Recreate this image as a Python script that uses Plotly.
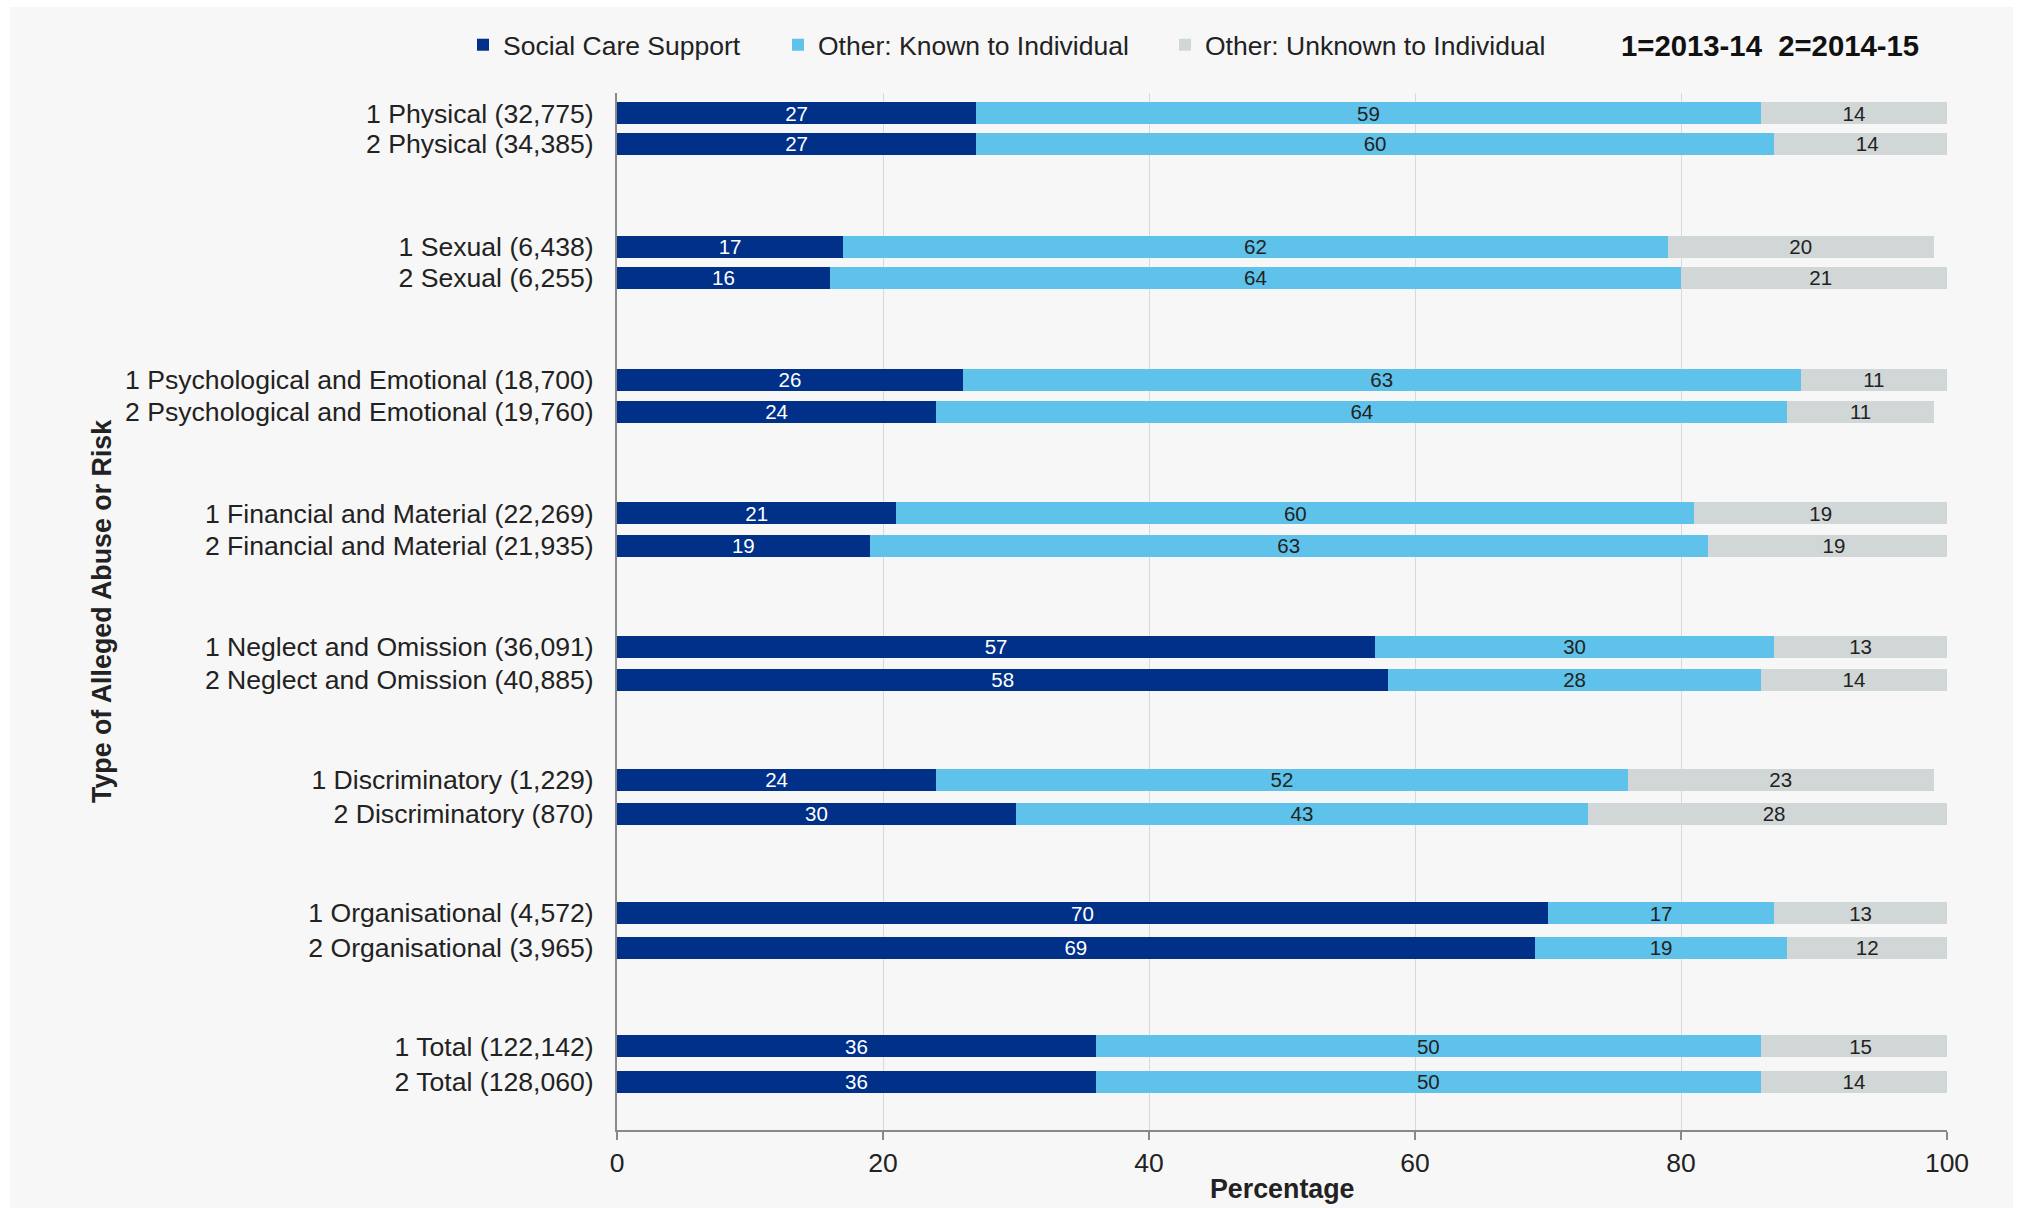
import plotly.graph_objects as go

# ---------------- data ----------------
categories = ["Physical", "Sexual", "Psychological and Emotional", "Financial and Material",
              "Neglect and Omission", "Discriminatory", "Organisational", "Total"]
counts_1314 = [32775, 6438, 18700, 22269, 36091, 1229, 4572, 122142]
counts_1415 = [34385, 6255, 19760, 21935, 40885, 870, 3965, 128060]

social_care_1314 = [27, 17, 26, 21, 57, 24, 70, 36]
social_care_1415 = [27, 16, 24, 19, 58, 30, 69, 36]
known_1314 = [59, 62, 63, 60, 30, 52, 17, 50]
known_1415 = [60, 64, 64, 63, 28, 43, 19, 50]
unknown_1314 = [14, 20, 11, 19, 13, 23, 13, 15]
unknown_1415 = [14, 21, 11, 19, 14, 28, 12, 14]

series_names = ["Social Care Support", "Other: Known to Individual", "Other: Unknown to Individual"]
x_ticks = [0, 20, 40, 60, 80, 100]

# ---------------- layout helpers ----------------
W, H = 2019, 1208
ML, MR, MT, MB = 617, 72, 93, 78
PW, PH = W - ML - MR, H - MT - MB

FONT = "Liberation Sans, Arial, Helvetica, sans-serif"
COL_SCS = "#003087"
COL_KNOWN = "#5EC2EA"
COL_UNKNOWN = "#D1D6D7"
TXT = "#222222"

# vertical slot positions (pixel-like units from top of plot area)
y_pos, y_lab = [], []
for g, cat in enumerate(categories):
    y_pos.append(20.3 + 133.3 * g)
    y_lab.append(f"1 {cat} ({counts_1314[g]:,})")
    y_pos.append(50.8 + 134.0 * g)
    y_lab.append(f"2 {cat} ({counts_1415[g]:,})")


def interleave(a, b):
    out = []
    for u, v in zip(a, b):
        out += [u, v]
    return out


series_vals = [interleave(social_care_1314, social_care_1415),
               interleave(known_1314, known_1415),
               interleave(unknown_1314, unknown_1415)]
colors = [COL_SCS, COL_KNOWN, COL_UNKNOWN]
text_colors = ["white", TXT, TXT]
legends = ["legend", "legend2", "legend3"]

fig = go.Figure()
for name, vals, c, tc, lg in zip(series_names, series_vals, colors, text_colors, legends):
    fig.add_trace(go.Bar(
        name=name, x=vals, y=y_pos, orientation="h",
        marker=dict(color=c, line=dict(width=0)), width=22,
        text=[str(v) for v in vals], textposition="inside", insidetextanchor="middle",
        textangle=0, constraintext="none",
        insidetextfont=dict(family=FONT, size=20.5, color=tc),
        legend=lg, showlegend=True,
    ))

legend_common = dict(orientation="h", xref="container", yref="container", y=1 - 45 / H,
                     yanchor="middle", xanchor="left", bgcolor="rgba(0,0,0,0)",
                     font=dict(family=FONT, size=26.5, color=TXT))

fig.update_layout(
    width=W, height=H, barmode="stack", showlegend=True,
    margin=dict(l=ML, r=MR, t=MT, b=MB, autoexpand=False),
    paper_bgcolor="white", plot_bgcolor="rgba(0,0,0,0)",
    font=dict(family=FONT, size=26, color=TXT),
    legend=dict(x=463 / W, **legend_common),
    legend2=dict(x=778 / W, **legend_common),
    legend3=dict(x=1165 / W, **legend_common),
    xaxis=dict(range=[0, 100], tickvals=x_ticks, showgrid=True, gridcolor="#D9D9D9", gridwidth=1,
               zeroline=False, showline=True, linecolor="#898989", linewidth=2,
               ticks="outside", ticklen=8, tickwidth=2, tickcolor="#898989",
               tickfont=dict(family=FONT, size=26.5, color=TXT)),
    yaxis=dict(range=[PH, 0], tickvals=y_pos, ticktext=y_lab, showgrid=False, zeroline=False,
               showline=True, linecolor="#898989", linewidth=2, ticks="",
               ticklabelstandoff=16, tickfont=dict(family=FONT, size=26.6, color=TXT)),
    shapes=[dict(type="rect", xref="paper", yref="paper", layer="below",
                 x0=(10 - ML) / PW, x1=(2013 - ML) / PW,
                 y0=(MT + PH - H - 5) / PH, y1=(MT + PH - 7) / PH,
                 fillcolor="#F7F7F7", line=dict(width=0))],
    annotations=[
        dict(text="<b>Percentage</b>", xref="paper", yref="paper", x=0.5,
             y=(MT + PH - 1189) / PH, showarrow=False, xanchor="center", yanchor="middle",
             font=dict(family=FONT, size=26.8, color=TXT)),
        dict(text="<b>Type of Alleged Abuse or Risk</b>", xref="paper", yref="paper",
             x=(102 - ML) / PW, y=(MT + PH - 612) / PH, textangle=-90, showarrow=False,
             xanchor="center", yanchor="middle", font=dict(family=FONT, size=26.8, color=TXT)),
        dict(text="<b>1=2013-14\u00a0\u00a02=2014-15</b>", xref="paper", yref="paper",
             x=(1770 - ML) / PW, y=(MT + PH - 45) / PH, showarrow=False,
             xanchor="center", yanchor="middle", font=dict(family=FONT, size=29.3, color="#111111")),
    ],
)

fig.write_html(
    "out.html",
    config={"displayModeBar": False},
    post_script="document.body.style.margin='0';document.documentElement.style.overflow='hidden';",
)
